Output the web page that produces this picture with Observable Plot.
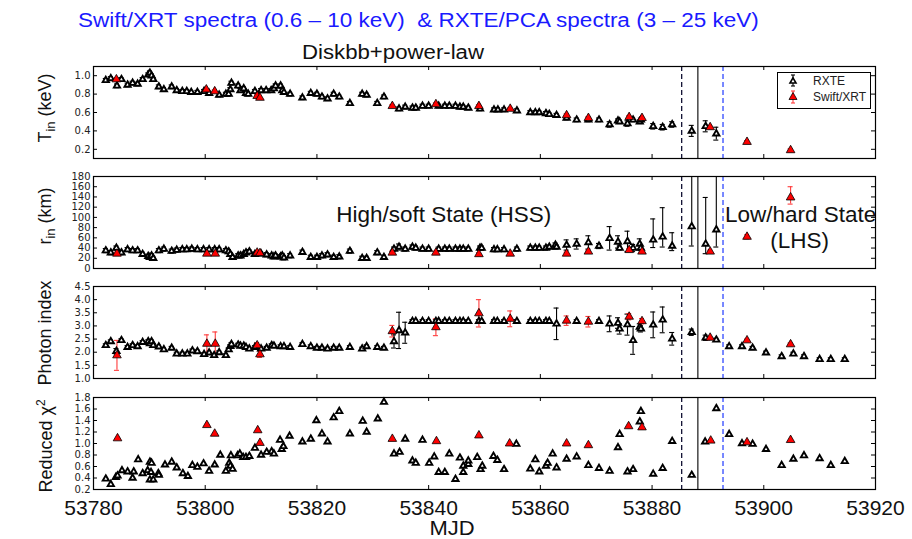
<!DOCTYPE html>
<html><head><meta charset="utf-8">
<script src="https://cdn.jsdelivr.net/npm/d3@7"></script>
<script src="https://cdn.jsdelivr.net/npm/@observablehq/plot@0.6"></script>
<style>
body{margin:0;background:#fff;}
#root{position:relative;width:912px;height:539px;overflow:hidden;font-family:"Liberation Sans",Arial,sans-serif;color:#000;}
.abs{position:absolute;white-space:nowrap;line-height:1;}
.ylab{position:absolute;transform:translate(-50%,-50%) rotate(-90deg);font-size:18px;white-space:nowrap;line-height:1;color:#111;}
.ylab sub{font-size:13px;vertical-align:-4px;}
.ylab sup{font-size:12px;vertical-align:7px;}
svg.panel{position:absolute;left:0;}
</style></head><body><div id="root"></div>
<script>
// ---------- data ----------
const mjdDomain = [53780, 53920];
const xTickValues = [53780, 53800, 53820, 53840, 53860, 53880, 53900, 53920];
const lineDashedBlack = 53885.3, lineSolid = 53888.2, lineDashedBlue = 53892.7;

const tinTicks = [0.2, 0.4, 0.6, 0.8, 1.0];
const rinTicks = [0, 20, 40, 60, 80, 100, 120, 140, 160, 180];
const gamTicks = [1.0, 1.5, 2.0, 2.5, 3.0, 3.5, 4.0, 4.5];
const chiTicks = [0.2, 0.4, 0.6, 0.8, 1.0, 1.2, 1.4, 1.6, 1.8];

// Tin (keV): [MJD, value, err?]
const tinRXTE = [
 [53782.2,0.95],[53783.1,0.97],[53784.2,0.89],[53785.0,0.96],[53786.1,0.90],[53787.0,0.92],[53787.9,0.91],
 [53788.8,0.96],[53789.8,1.01],[53790.1,1.03],[53790.4,1.00],[53790.7,0.96],[53791.7,0.88],[53792.6,0.85],
 [53794.0,0.88],[53794.9,0.84],[53795.9,0.83],[53796.7,0.83],[53797.5,0.82],[53798.6,0.82],[53799.8,0.83],
 [53800.7,0.81],[53802.5,0.79],[53803.7,0.80],[53804.2,0.80],[53804.5,0.85],[53804.7,0.92],[53805.9,0.89],
 [53806.3,0.84],[53806.9,0.86],[53807.3,0.81],[53807.7,0.80],[53808.9,0.83],[53810.0,0.84],[53810.9,0.84],
 [53811.8,0.84],[53812.3,0.86],[53812.6,0.89],[53813.5,0.89],[53813.8,0.84],[53814.1,0.82],[53815.2,0.80],
 [53817.4,0.76],[53818.9,0.81],[53820.0,0.80],[53820.9,0.77],[53821.9,0.75],[53823.0,0.80],[53824.0,0.77],
 [53825.9,0.70],[53828.1,0.80],[53828.9,0.79],[53830.8,0.70],[53832.0,0.77],[53834.7,0.64],[53835.8,0.66],
 [53837.1,0.65],[53837.7,0.65],[53838.9,0.67],[53840.0,0.67],[53841.8,0.67],[53842.9,0.67],[53843.7,0.67],
 [53844.8,0.67],[53845.6,0.66],[53846.2,0.66],[53847.1,0.65],[53849.2,0.64],[53851.7,0.63],[53852.4,0.63],
 [53853.5,0.63],[53855.8,0.62],[53858.2,0.60],[53859.1,0.60],[53859.8,0.60],[53861.0,0.59],[53861.6,0.58],
 [53862.9,0.57],[53864.7,0.54],[53866.5,0.52],[53868.6,0.52],[53870.5,0.52],[53872.4,0.47,0.03],[53873.9,0.51],
 [53874.2,0.50],[53875.6,0.48,0.03],[53876.6,0.52],[53877.8,0.50],[53878.0,0.52],[53880.2,0.45,0.03],
 [53881.9,0.44,0.03],[53883.6,0.47,0.03],[53887.1,0.40,0.06],[53889.6,0.45,0.06],[53891.5,0.37,0.07]
];
const tinSwift = [
 [53784.1,0.96],[53800.2,0.85],[53801.7,0.83],[53809.3,0.78],[53809.8,0.76],[53833.5,0.67],[53841.3,0.69],
 [53849.0,0.67],[53854.6,0.64],[53864.7,0.57],[53868.6,0.54],[53875.9,0.55],[53878.2,0.54],[53890.4,0.44],
 [53897.0,0.28],[53904.8,0.19]
];

// rin (km): [MJD, value, err?] or [MJD, value, low, high]
const rinRXTE = [
 [53782.2,35],[53783.1,31],[53784.1,40],[53785.0,31],[53786.1,37],[53787.0,35],[53787.9,35],[53788.8,28],
 [53789.8,24],[53790.1,22],[53790.4,25],[53790.7,20],[53791.7,35],[53792.6,38],[53794.0,34],[53794.9,36],
 [53795.9,37],[53796.7,37],[53797.6,38],[53798.6,37],[53799.7,37],[53800.7,37],[53801.7,37],[53802.5,37],
 [53803.7,35],[53804.2,33],[53804.5,28],[53804.9,22],[53805.9,25],[53806.3,25],[53806.9,28],[53807.3,31],
 [53807.9,33],[53808.9,28],[53810.0,29],[53811.0,27],[53811.9,25],[53812.3,23],[53812.6,25],[53813.5,23],
 [53813.8,25],[53814.1,21],[53815.2,25],[53817.4,32],[53818.9,22],[53820.0,22],[53820.9,25],[53821.9,27],
 [53823.0,22],[53824.0,23],[53825.9,34],[53828.1,20],[53828.9,20],[53830.8,31],[53832.0,22],[53833.8,38],
 [53834.7,42,6],[53835.8,38],[53837.1,42],[53837.7,40],[53838.9,38],[53840.0,38],[53841.8,38],[53842.9,38],
 [53843.7,38],[53844.8,38],[53845.6,38],[53846.2,38],[53847.1,38],[53849.2,40],[53849.5,40],[53851.7,37],
 [53852.3,37],[53853.5,37],[53855.8,38],[53858.2,40],[53859.1,40],[53859.8,40],[53861.0,40],[53861.6,42],
 [53862.7,46],[53862.9,42],[53864.7,46,10],[53866.5,48,10],[53868.6,51,13],[53870.5,44,5],[53872.4,59,23],
 [53873.9,52,12],[53874.2,40],[53875.6,53,20],[53876.6,40,7],[53877.8,48,10],[53878.0,40,5],
 [53880.2,56,41,97],[53881.9,62,42,119],[53883.6,44,35,70],[53887.1,82,44,200],[53889.6,48,29,139],
 [53891.5,76,42,200]
];
const rinSwift = [
 [53784.2,29],[53800.3,29],[53801.8,29],[53809.3,31],[53809.8,30],[53833.5,31],[53841.3,31],[53849.0,28],
 [53854.6,29],[53864.7,29],[53868.6,33],[53875.9,36],[53878.2,33],[53890.4,33],[53897.0,62,4],
 [53904.8,139,126,160]
];

// Photon index: [MJD, value, err?]
const gamRXTE = [
 [53782.2,2.26],[53783.1,2.41],[53784.1,2.04,0.1],[53785.0,2.45],[53786.1,2.19],[53787.0,2.26],[53787.9,2.22],
 [53788.8,2.38],[53789.8,2.41],[53790.1,2.33],[53790.4,2.41],[53790.7,2.26],[53791.7,2.21],[53792.6,2.10],
 [53794.0,2.16],[53794.9,1.94],[53795.9,1.94],[53796.8,1.94],[53797.7,2.06],[53798.6,2.03],[53799.8,1.92],
 [53800.7,1.98],[53801.6,1.88],[53802.5,1.99],[53803.7,1.88],[53804.2,2.10],[53804.5,2.23],[53804.7,2.30],
 [53805.9,2.28],[53806.3,2.24],[53806.9,2.24],[53807.3,2.19],[53807.9,2.13],[53808.9,2.19],[53810.0,2.13],
 [53811.0,2.16],[53811.9,2.26],[53812.3,2.24],[53813.5,2.22],[53814.1,2.22],[53815.2,2.19],[53817.4,2.30],
 [53818.9,2.22],[53820.0,2.16],[53820.9,2.16],[53821.9,2.13],[53823.0,2.16],[53824.0,2.16],[53825.9,2.19],
 [53828.1,2.13],[53828.9,2.22],[53830.8,2.19],[53832.0,2.16],[53833.8,2.41,0.25],[53834.7,2.83,0.69],
 [53835.8,2.74,0.4],[53837.1,3.18],[53837.7,3.18],[53838.9,3.18],[53840.0,3.18],[53841.3,3.18],[53841.8,3.18],
 [53842.9,3.18],[53843.7,3.18],[53844.8,3.18],[53845.6,3.18],[53846.2,3.18],[53847.1,3.18],[53849.0,3.18],
 [53849.5,3.18],[53851.7,3.18],[53852.3,3.18],[53853.5,3.18],[53855.8,3.18],[53858.2,3.18],[53859.1,3.18],
 [53859.8,3.18],[53861.0,3.18],[53861.6,3.18],[53862.9,3.08,0.6],[53866.5,3.18],[53870.5,3.18],
 [53872.4,3.08,0.3],[53873.9,3.11,0.2],[53874.2,2.89,0.2],[53875.6,3.05,0.4],[53876.6,2.45,0.53],
 [53877.8,2.96,0.12],[53878.0,2.89,0.12],[53880.2,3.04,0.49],[53881.9,3.23,0.49],[53883.6,2.51,0.24],
 [53887.1,2.76,0.12],[53889.6,2.55,0.1],[53891.5,2.47],[53893.8,2.22],[53896.1,2.22],[53898.0,2.16],
 [53900.4,1.98],[53903.2,1.84],[53905.3,1.94],[53907.2,1.84],[53910.0,1.73],[53912.0,1.73],[53914.5,1.73]
];
const gamSwift = [
 [53784.2,1.88,0.57],[53800.3,2.32,0.34],[53801.8,2.32,0.45],[53809.3,2.26,0.1],[53809.8,1.92,0.12],
 [53833.5,2.80,0.22],[53841.3,2.95,0.32],[53849.0,3.48,0.52],[53854.6,3.27,0.3],[53864.7,3.20,0.18],
 [53868.6,3.16,0.2],[53875.9,3.35,0.12],[53878.2,3.18,0.1],[53890.4,2.55,0.05],[53897.0,2.45,0.05],
 [53904.8,2.30,0.05]
];

// Reduced chi^2: [MJD, value]
const chiRXTE = [
 [53782.2,0.385],[53783.1,0.29],[53784.0,0.415],[53784.3,0.44],[53785.1,0.53],[53786.1,0.51],[53787.0,0.40],
 [53787.2,0.51],[53788.0,0.72],[53788.8,0.48],[53789.7,0.53],[53790.1,0.68],[53790.4,0.66],[53790.3,0.50],
 [53790.1,0.37],[53790.7,0.37],[53791.6,0.48],[53791.7,0.45],[53792.8,0.63],[53794.0,0.68],[53794.9,0.58],
 [53796.0,0.48],[53796.9,0.43],[53797.7,0.62],[53798.6,0.59],[53799.7,0.65],[53800.7,0.52],[53801.7,0.63],
 [53802.7,0.80],[53803.7,0.52],[53804.3,0.66],[53804.5,0.61],[53804.9,0.555],[53804.6,0.79],[53805.8,0.79],
 [53806.2,0.82],[53806.8,0.76],[53807.3,0.76],[53807.9,0.78],[53808.9,0.92],[53810.0,0.80],[53811.0,0.85],
 [53811.9,0.86],[53812.3,0.82],[53813.4,1.06],[53813.7,0.90],[53814.0,0.95],[53815.1,1.13],[53817.4,1.03],
 [53818.9,1.08],[53819.9,1.40],[53820.9,1.17],[53821.9,1.03],[53823.0,1.45],[53824.0,1.56],[53825.9,1.17],
 [53828.2,1.39],[53828.9,1.20],[53830.9,1.43],[53832.0,1.72],[53833.8,0.82],[53834.8,0.85],[53835.8,1.08],
 [53837.1,0.70],[53837.7,0.66],[53838.9,1.06],[53840.1,0.66],[53841.0,0.77],[53841.8,0.50],[53842.9,0.50],
 [53843.7,0.82],[53844.8,0.38],[53845.6,0.75],[53846.2,0.50],[53846.2,0.61],[53847.1,0.64],[53847.1,0.70],
 [53848.7,0.76],[53849.3,0.55],[53849.6,0.61],[53851.6,0.78],[53852.3,0.71],[53853.5,0.55],[53855.7,0.99],
 [53858.2,0.56],[53859.1,0.72],[53859.8,0.51],[53861.0,0.61],[53861.3,0.66],[53862.2,0.82],[53862.9,0.58],
 [53864.7,0.73],[53866.5,0.77],[53868.6,0.62],[53870.5,0.57],[53872.4,0.52],[53873.9,0.93],[53874.2,1.16],
 [53875.6,0.51],[53876.6,0.55],[53877.8,1.38],[53878.0,1.56],[53880.2,0.47],[53881.9,0.57],[53883.6,1.04],
 [53887.1,0.45],[53889.5,1.03],[53891.5,1.61],[53893.8,1.16],[53896.1,1.00],[53898.0,0.99],[53900.4,0.90],
 [53903.2,0.62],[53905.3,0.73],[53907.2,0.79],[53910.0,0.74],[53912.0,0.62],[53914.5,0.69]
];
const chiSwift = [
 [53784.3,1.09],[53800.3,1.32],[53801.7,1.17],[53809.4,1.23],[53809.8,1.01],[53833.5,1.08],[53841.4,1.04],
 [53849.0,1.14],[53854.5,1.00],[53864.7,1.00],[53868.6,0.97],[53875.8,1.30],[53878.2,1.28],[53890.5,1.05],
 [53897.0,1.02],[53904.8,1.06]
];

const titleText = "Swift/XRT spectra (0.6 \u2013 10 keV)  & RXTE/PCA spectra (3 \u2013 25 keV)";
const subtitleText = "Diskbb+power-law";
const stateLabels = ["High/soft State (HSS)", "Low/hard State", "(LHS)"];
const legendLabels = ["RXTE", "Swift/XRT"];

// ---------- drawing ----------
const root = document.getElementById("root");
const RED = "#ff0000", ERRRED = "#ff3b3b", BLUE = "#3048ff";
const cap = 0.45;
const SANS = "Liberation Sans, Arial, sans-serif";

function norm(arr, de, dom) {
  return arr.map(t => {
    const x = t[0], y = t[1];
    let lo, hi;
    if (t.length >= 4) { lo = t[2]; hi = t[3]; }
    else { const e = t.length === 3 ? t[2] : de; lo = y - e; hi = y + e; }
    return {x, y, lo: Math.max(lo, dom[0]), hi: Math.min(hi, dom[1]), capLo: lo >= dom[0], capHi: hi <= dom[1]};
  });
}

function errMarks(d, color, w) {
  const e = d.filter(p => p.hi > p.lo);
  return [
    Plot.ruleX(e, {x: "x", y1: "lo", y2: "hi", stroke: color, strokeWidth: w}),
    Plot.ruleY(e.filter(p => p.capLo), {y: "lo", x1: p => p.x - cap, x2: p => p.x + cap, stroke: color, strokeWidth: w}),
    Plot.ruleY(e.filter(p => p.capHi), {y: "hi", x1: p => p.x - cap, x2: p => p.x + cap, stroke: color, strokeWidth: w})
  ];
}

function panel(cfg) {
  const {top, height, mb, domain, ticks, fmt, black, red, defErr, redErr, extra = [], bottom = false} = cfg;
  const B = norm(black, defErr, domain), R = norm(red, redErr, domain);
  const fh = height - 10 - mb;
  const ty = (domain[1] - domain[0]) * 4 / fh;
  const tx = (mjdDomain[1] - mjdDomain[0]) * 4 / 782;
  const marks = [
    Plot.ruleX([lineDashedBlack], {x: d => d, stroke: "#111133", strokeWidth: 1.3, strokeDasharray: "5,3"}),
    Plot.ruleX([lineSolid], {x: d => d, stroke: "black", strokeWidth: 1.1}),
    Plot.ruleX([lineDashedBlue], {x: d => d, stroke: BLUE, strokeWidth: 1.3, strokeDasharray: "5,3"}),
    ...errMarks(B, "black", 1.1),
    ...errMarks(R, ERRRED, 1.1),
    Plot.dot(B, {x: "x", y: "y", symbol: "triangle", r: 2.3, fill: "white", stroke: "black", strokeWidth: 1.9}),
    Plot.dot(R, {x: "x", y: "y", symbol: "triangle", r: 3.2, fill: RED, stroke: "black", strokeWidth: 0.8}),
    ...extra,
    Plot.ruleX(xTickValues, {x: d => d, y1: domain[0], y2: domain[0] + ty, stroke: "black"}),
    Plot.ruleX(xTickValues, {x: d => d, y1: domain[1] - ty, y2: domain[1], stroke: "black"}),
    Plot.ruleY(ticks, {y: d => d, x1: mjdDomain[0], x2: mjdDomain[0] + tx, stroke: "black"}),
    Plot.ruleY(ticks, {y: d => d, x1: mjdDomain[1] - tx, x2: mjdDomain[1], stroke: "black"}),
    Plot.frame({stroke: "black", strokeWidth: 1.2})
  ];
  if (bottom) {
    marks.push(Plot.text(xTickValues, {x: d => d, y: domain[0], dy: 19, text: d => String(d),
      fontSize: 21, fontFamily: SANS, fill: "#111"}));
  }
  const svg = Plot.plot({
    width: 912, height, marginLeft: 93, marginRight: 37, marginTop: 10, marginBottom: mb,
    x: {domain: mjdDomain, axis: null},
    y: {domain, ticks, tickFormat: fmt, tickSize: 0, tickPadding: 3, label: null},
    style: {fontFamily: "DejaVu Sans, sans-serif", fontSize: "10px", color: "#222", background: "transparent", overflow: "visible"},
    marks
  });
  svg.classList.add("panel");
  svg.style.top = top + "px";
  root.appendChild(svg);
}

const f1 = d3.format(".1f");
panel({top: 56, height: 112, mb: 10, domain: [0.1, 1.1], ticks: tinTicks, fmt: f1, black: tinRXTE, red: tinSwift, defErr: 0.02, redErr: 0.015});
panel({top: 166, height: 112, mb: 10, domain: [0, 180], ticks: rinTicks, fmt: d => String(d), black: rinRXTE, red: rinSwift, defErr: 4, redErr: 3,
  extra: [
    Plot.text([stateLabels[0]], {x: 53842.7, y: 105, text: d => d, fontSize: 22.5, fontFamily: SANS, fill: "#111"}),
    Plot.text([stateLabels[1]], {x: 53906.6, y: 105, text: d => d, fontSize: 22.5, fontFamily: SANS, fill: "#111"}),
    Plot.text([stateLabels[2]], {x: 53906.4, y: 54, text: d => d, fontSize: 22.5, fontFamily: SANS, fill: "#111"})
  ]});
panel({top: 276, height: 112, mb: 10, domain: [1, 4.5], ticks: gamTicks, fmt: f1, black: gamRXTE, red: gamSwift, defErr: 0.06, redErr: 0.05});
panel({top: 387, height: 152, mb: 50, domain: [0.2, 1.8], ticks: chiTicks, fmt: f1, black: chiRXTE, red: chiSwift, defErr: 0, redErr: 0, bottom: true});

// ---------- text ----------
function addDiv(html, cls, style) {
  const d = document.createElement("div");
  d.className = cls; d.innerHTML = html;
  Object.assign(d.style, style);
  root.appendChild(d);
  return d;
}
addDiv(titleText.replace(/&/g, "&amp;").replace(/  /g, " &nbsp;"), "abs", {left: "78px", top: "10px", fontSize: "20px", color: "#1a1aff", transform: "scaleX(1.125)", transformOrigin: "0 0"});
addDiv(subtitleText, "abs", {left: "302px", top: "42px", fontSize: "20px", color: "#111", transform: "scaleX(1.11)", transformOrigin: "0 0"});
addDiv("T<sub>in</sub> (keV)", "ylab", {left: "46px", top: "108px"});
addDiv("r<sub>in</sub> (km)", "ylab", {left: "46px", top: "216px"});
addDiv("Photon index", "ylab", {left: "45px", top: "333px"});
addDiv("Reduced &chi;<sup>2</sup>", "ylab", {left: "45px", top: "446px"});
addDiv("MJD", "abs", {left: "452px", top: "528px", transform: "translate(-50%,-50%) scaleX(1.1)", fontSize: "20px", color: "#111"});

// legend
const leg = document.createElementNS("http://www.w3.org/2000/svg", "svg");
leg.setAttribute("width", 94); leg.setAttribute("height", 37);
Object.assign(leg.style, {position: "absolute", left: "777px", top: "72px"});
leg.innerHTML = `
<rect x="0.5" y="0.5" width="93" height="36" fill="white" stroke="black" stroke-width="1"/>
<g stroke="black" stroke-width="1.1"><line x1="16" y1="3" x2="16" y2="14"/><line x1="14" y1="3" x2="18" y2="3"/><line x1="14" y1="14" x2="18" y2="14"/></g>
<path d="M16,5.8 L19,11 L13,11 Z" fill="white" stroke="black" stroke-width="1.6"/>
<g stroke="${ERRRED}" stroke-width="1.1"><line x1="16" y1="19" x2="16" y2="31"/><line x1="14" y1="19" x2="18" y2="19"/><line x1="14" y1="31" x2="18" y2="31"/></g>
<path d="M16,20.5 L20,27.5 L12,27.5 Z" fill="${RED}" stroke="black" stroke-width="0.8"/>
<text x="36" y="13" font-size="12" font-family="${SANS}" fill="#222">${legendLabels[0]}</text>
<text x="36" y="29" font-size="12" font-family="${SANS}" fill="#222">${legendLabels[1]}</text>`;
root.appendChild(leg);
</script></body></html>
